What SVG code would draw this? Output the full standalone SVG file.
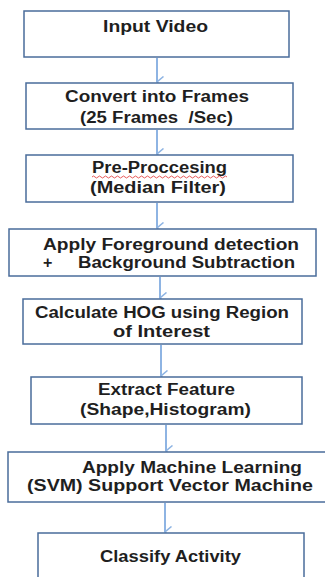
<svg xmlns="http://www.w3.org/2000/svg" width="325" height="577" viewBox="0 0 325 577">
<defs>
<style>
.box{fill:#fff;stroke:#4a6c9b;stroke-width:1.5}
.t{font-family:"Liberation Sans",Arial,sans-serif;font-weight:bold;font-size:16px;fill:#1f1f1f}
.c{stroke:#8eb4e3;stroke-width:2;fill:none}
</style>
<marker id="ah" viewBox="0 0 12 8" refX="6" refY="7" markerWidth="12" markerHeight="8" markerUnits="userSpaceOnUse" orient="auto-start-reverse">
<path d="M0.5 0.5 L6 7 L11.5 0.5" fill="none" stroke="#8eb4e3" stroke-width="1.5"/>
</marker>
</defs>
<rect width="325" height="577" fill="#fff"/>
<g id="connectors">
<line class="c" x1="157" y1="58" x2="157" y2="82" marker-end="url(#ah)"/>
<line class="c" x1="157" y1="130" x2="157" y2="154" marker-end="url(#ah)"/>
<line class="c" x1="157" y1="203" x2="157" y2="228" marker-end="url(#ah)"/>
<line class="c" x1="160" y1="277" x2="160" y2="298" marker-end="url(#ah)"/>
<line class="c" x1="161" y1="345" x2="161" y2="376" marker-end="url(#ah)"/>
<line class="c" x1="166" y1="425" x2="166" y2="451" marker-end="url(#ah)"/>
<line class="c" x1="165" y1="503" x2="165" y2="532" marker-end="url(#ah)"/>
</g>
<g id="n1"><rect class="box" x="24" y="11" width="265" height="46"/><text class="t" x="103" y="32" textLength="105" lengthAdjust="spacingAndGlyphs">Input Video</text></g>
<g id="n2"><rect class="box" x="26" y="83" width="267" height="46"/><text class="t" x="65" y="102" textLength="184" lengthAdjust="spacingAndGlyphs">Convert into Frames</text><text class="t" x="80" y="123" textLength="153" lengthAdjust="spacingAndGlyphs" xml:space="preserve">(25 Frames  /Sec)</text></g>
<g id="n3"><rect class="box" x="26" y="155" width="267" height="47"/><text class="t" x="92" y="173" textLength="135" lengthAdjust="spacingAndGlyphs">Pre-Proccesing</text><path d="M92 177 q1.5 -2 3 0 t3 0 t3 0 t3 0 t3 0 t3 0 t3 0 t3 0 t3 0 t3 0 t3 0 t3 0 t3 0 t3 0 t3 0 t3 0 t3 0 t3 0 t3 0 t3 0 t3 0 t3 0 t3 0 t3 0 t3 0 t3 0 t3 0 t3 0 t3 0 t3 0 t3 0 t3 0 t3 0 t3 0 t3 0 t3 0 t3 0 t3 0 t3 0 t3 0 t3 0 t3 0 t3 0 t3 0 t3 0" fill="none" stroke="#e03030" stroke-width="0.8"/><text class="t" x="90" y="193" textLength="136" lengthAdjust="spacingAndGlyphs">(Median Filter)</text></g>
<g id="n4"><rect class="box" x="9" y="229" width="307" height="47"/><text class="t" x="43" y="250" textLength="256" lengthAdjust="spacingAndGlyphs">Apply Foreground detection</text><text class="t" x="43" y="268">+</text><text class="t" x="78" y="268" textLength="217" lengthAdjust="spacingAndGlyphs">Background Subtraction</text></g>
<g id="n5"><rect class="box" x="23" y="299" width="279" height="45"/><text class="t" x="35" y="318" textLength="254" lengthAdjust="spacingAndGlyphs">Calculate HOG using Region</text><text class="t" x="113" y="337" textLength="97" lengthAdjust="spacingAndGlyphs">of Interest</text></g>
<g id="n6"><rect class="box" x="31" y="377" width="271" height="47"/><text class="t" x="98" y="395" textLength="137" lengthAdjust="spacingAndGlyphs">Extract Feature</text><text class="t" x="80" y="415" textLength="171" lengthAdjust="spacingAndGlyphs">(Shape,Histogram)</text></g>
<g id="n7"><rect class="box" x="8" y="452" width="318" height="50"/><text class="t" x="82" y="473" textLength="220" lengthAdjust="spacingAndGlyphs">Apply Machine Learning</text><text class="t" x="27" y="491" textLength="286" lengthAdjust="spacingAndGlyphs">(SVM) Support Vector Machine</text></g>
<g id="n8"><rect class="box" x="38" y="533" width="266" height="50"/><text class="t" x="100" y="562" textLength="141" lengthAdjust="spacingAndGlyphs">Classify Activity</text></g>
</svg>
